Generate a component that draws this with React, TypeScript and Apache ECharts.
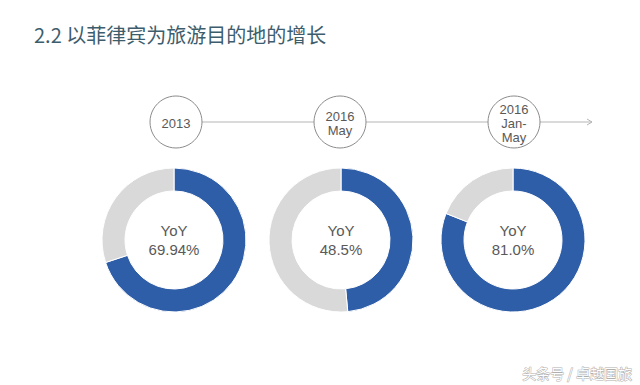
import React, { useEffect, useRef } from "react";
import * as echarts from "echarts";

const titleText = "2.2 以菲律宾为旅游目的地的增长";
const periods = ["2013", "2016\nMay", "2016\nJan-\nMay"];
const yoyValues = [69.94, 48.5, 81.0];
const yoyLabels = ["69.94%", "48.5%", "81.0%"];
const watermark = "头条号 / 卓越国旅";

const centersX = [174, 341, 513];
const circleX = [176, 340, 514];
const lineY = 122;
const BLUE = "#2f5ea9";
const GREY = "#d9d9d9";

export default function App() {
  const ref = useRef<HTMLDivElement>(null);
  useEffect(() => {
    if (!ref.current) return;
    const chart = echarts.init(ref.current, null, { renderer: "svg" });
    const r = 26;
    const graphics: any[] = [
      {
        type: "text",
        left: 34,
        top: 24,
        style: {
          text: titleText,
          fontSize: 20,
          fontFamily: "Noto Sans CJK SC, sans-serif",
          fill: "#3d5d6d",
          fontWeight: "normal",
        },
      },
    ];
    for (let i = 0; i < circleX.length; i++) {
      const x1 = circleX[i] + r;
      const x2 = i < circleX.length - 1 ? circleX[i + 1] - r : 592;
      graphics.push({
        type: "line",
        shape: { x1, y1: lineY, x2, y2: lineY },
        style: { stroke: "#b5b5b5", lineWidth: 1 },
      });
    }
    graphics.push({
      type: "polyline",
      shape: { points: [[587, lineY - 3], [592, lineY], [587, lineY + 3]] },
      style: { stroke: "#b5b5b5", lineWidth: 1, fill: "none" },
    });
    periods.forEach((p, i) => {
      graphics.push({
        type: "circle",
        shape: { cx: circleX[i], cy: lineY, r },
        style: { stroke: "#8c8c8c", lineWidth: 1, fill: "#fff" },
      });
      graphics.push({
        type: "text",
        x: circleX[i],
        y: lineY + 1,
        style: {
          text: p,
          fontSize: 13,
          lineHeight: 14,
          fontFamily: "Liberation Sans, Arial, sans-serif",
          fill: "#595959",
          align: "center",
          verticalAlign: "middle",
        },
      });
    });
    graphics.push({
      type: "text",
      x: 632,
      y: 373,
      style: {
        text: watermark,
        fontSize: 14,
        fontFamily: "Noto Sans CJK SC, sans-serif",
        fill: "#ffffff",
        stroke: "#b0b0b0",
        lineWidth: 1,
        align: "right",
        verticalAlign: "middle",
      },
    });

    const series = yoyValues.map((v, i) => ({
      type: "pie",
      center: [centersX[i], 240],
      radius: [49, 72],
      startAngle: 90,
      clockwise: true,
      silent: true,
      avoidLabelOverlap: false,
      labelLine: { show: false },
      emphasis: { disabled: true },
      itemStyle: { borderColor: "#ffffff", borderWidth: 1 },
      label: {
        show: true,
        position: "center",
        formatter: "YoY\n" + yoyLabels[i],
        fontSize: 15,
        lineHeight: 19,
        color: "#595959",
        fontFamily: "Liberation Sans, Arial, sans-serif",
      },
      data: [
        { value: v, itemStyle: { color: BLUE } },
        { value: 100 - v, itemStyle: { color: GREY }, label: { show: false } },
      ],
    }));

    chart.setOption({
      animation: false,
      backgroundColor: "#ffffff",
      graphic: graphics,
      series,
    });
    return () => chart.dispose();
  }, []);
  return (
    <div
      ref={ref}
      style={{ position: "absolute", left: 0, top: 0, width: 640, height: 385 }}
    />
  );
}
